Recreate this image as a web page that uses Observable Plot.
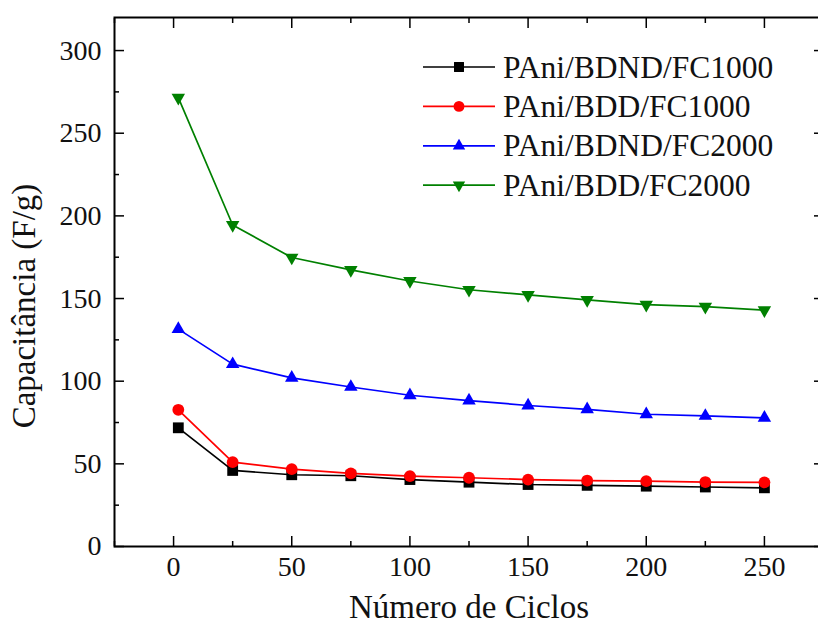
<!DOCTYPE html>
<html><head><meta charset="utf-8">
<script src="https://cdn.jsdelivr.net/npm/d3@7"></script>
<script src="https://cdn.jsdelivr.net/npm/@observablehq/plot@0.6"></script>
<style>
html,body{margin:0;background:#fff;overflow:hidden;}
#chart{position:relative;width:818px;height:627px;overflow:hidden;background:#fff;}
#chart svg{overflow:hidden;max-width:none !important;}
#legend{position:absolute;left:0;top:0;}
</style></head><body><div id="chart"></div>
<script>
const ciclos = [2,25,50,75,100,125,150,175,200,225,250];
const seriesNames = ["PAni/BDND/FC1000","PAni/BDD/FC1000","PAni/BDND/FC2000","PAni/BDD/FC2000"];
const bdndFc1000 = [71.8,46,43.4,42.8,40.5,38.9,37.5,37,36.5,36,35.5];
const bddFc1000 = [82.7,51,46.8,44.2,42.6,41.6,40.5,39.9,39.5,39,38.8];
const bdndFc2000 = [131.5,110.3,102,96.5,91.5,88.3,85.3,83,80,79,77.8];
const bddFc2000 = [271.5,194.5,174.8,167.3,160.6,155.3,152.2,149.2,146.3,145.1,143];
const xTicks = [0,50,100,150,200,250];
const xMinor = [-25,25,75,125,175,225,275];
const yTicks = [0,50,100,150,200,250,300];
const yMinor = [25,75,125,175,225,275];
const xTitle = "Número de Ciclos";
const yTitle = "Capacitância (F/g)";
const colors = ["#000000","#ff0000","#0000ff","#008000"];

const triangleDown = {
  draw(context, size) {
    const y = -Math.sqrt(size / (3 * Math.sqrt(3)));
    context.moveTo(0, -2 * y);
    context.lineTo(-Math.sqrt(3) * y, y);
    context.lineTo(Math.sqrt(3) * y, y);
    context.closePath();
  }
};
const symbols = ["square","circle","triangle",triangleDown];
const radii = [6.1,5.9,5.0,5.0];
const allValues = [bdndFc1000, bddFc1000, bdndFc2000, bddFc2000];

const series = seriesNames.map((name, s) =>
  ciclos.map((c, i) => ({ciclo: c, valor: allValues[s][i], serie: name})));

const font = "Liberation Serif, Times New Roman, serif";
const marks = [];
series.forEach((data, s) => {
  marks.push(Plot.line(data, {x: "ciclo", y: "valor", stroke: colors[s], strokeWidth: 1.7}));
});
series.forEach((data, s) => {
  marks.push(Plot.dot(data, {x: "ciclo", y: "valor", fill: colors[s], stroke: "none", symbol: symbols[s], r: radii[s]}));
});

const blank = () => "";
marks.push(
  Plot.axisX(xTicks, {anchor: "bottom", tickSize: -10, tickFormat: blank, strokeWidth: 1.5}),
  Plot.axisX(xMinor, {anchor: "bottom", tickSize: -5, tickFormat: blank, strokeWidth: 1.5}),
  Plot.axisX(xTicks, {anchor: "top", tickSize: -10, tickFormat: blank, strokeWidth: 1.5}),
  Plot.axisX(xMinor, {anchor: "top", tickSize: -5, tickFormat: blank, strokeWidth: 1.5}),
  Plot.axisX(xTicks, {anchor: "bottom", tickSize: 0, tickPadding: 10, fontSize: 28, fill: "#111"}),
  Plot.axisY(yTicks, {anchor: "left", tickSize: -10, tickFormat: blank, strokeWidth: 1.5}),
  Plot.axisY(yMinor, {anchor: "left", tickSize: -5, tickFormat: blank, strokeWidth: 1.5}),
  Plot.axisY(yTicks, {anchor: "right", tickSize: -10, tickFormat: blank, strokeWidth: 1.5}),
  Plot.axisY(yMinor, {anchor: "right", tickSize: -5, tickFormat: blank, strokeWidth: 1.5}),
  Plot.axisY(yTicks, {anchor: "left", tickSize: 0, tickPadding: 13, fontSize: 28, fill: "#111"}),
  Plot.frame({stroke: "#000", strokeWidth: 2}),
  Plot.text([xTitle], {text: d => d, frameAnchor: "bottom", textAnchor: "middle", lineAnchor: "middle", dy: 61, fontSize: 33, fill: "#111"}),
  Plot.text([yTitle], {text: d => d, frameAnchor: "left", textAnchor: "middle", lineAnchor: "middle", rotate: -90, dx: -90, dy: 24, fontSize: 33, fill: "#111"})
);

const plot = Plot.plot({
  width: 824,
  height: 627,
  marginLeft: 114,
  marginTop: 17,
  marginBottom: 81,
  marginRight: 1,
  x: {domain: [-25, 275], label: null},
  y: {domain: [0, 320], label: null},
  style: {fontFamily: font, fontSize: "28px", color: "#000", background: "#fff"},
  marks
});
const chart = document.getElementById("chart");
chart.appendChild(plot);

// Legend overlay
const leg = d3.select(chart).append("svg").attr("id", "legend")
  .attr("width", 818).attr("height", 627);
const rowY0 = 67, rowStep = 39.4;
seriesNames.forEach((name, s) => {
  const cy = rowY0 + s * rowStep;
  const g = leg.append("g").attr("transform", `translate(0,${cy})`);
  g.append("line").attr("x1", 423).attr("x2", 495).attr("y1", 0).attr("y2", 0)
    .attr("stroke", colors[s]).attr("stroke-width", 1.7);
  const sym = typeof symbols[s] === "string"
    ? {square: d3.symbolSquare, circle: d3.symbolCircle, triangle: d3.symbolTriangle}[symbols[s]]
    : symbols[s];
  g.append("path").attr("transform", "translate(459,0)")
    .attr("d", d3.symbol(sym, Math.PI * radii[s] * radii[s] * 0.85)())
    .attr("fill", colors[s]);
  g.append("text").attr("x", 503).attr("y", 10.5)
    .style("font-family", font).attr("font-size", 31.5).attr("fill", "#111")
    .text(name);
});
</script></body></html>
